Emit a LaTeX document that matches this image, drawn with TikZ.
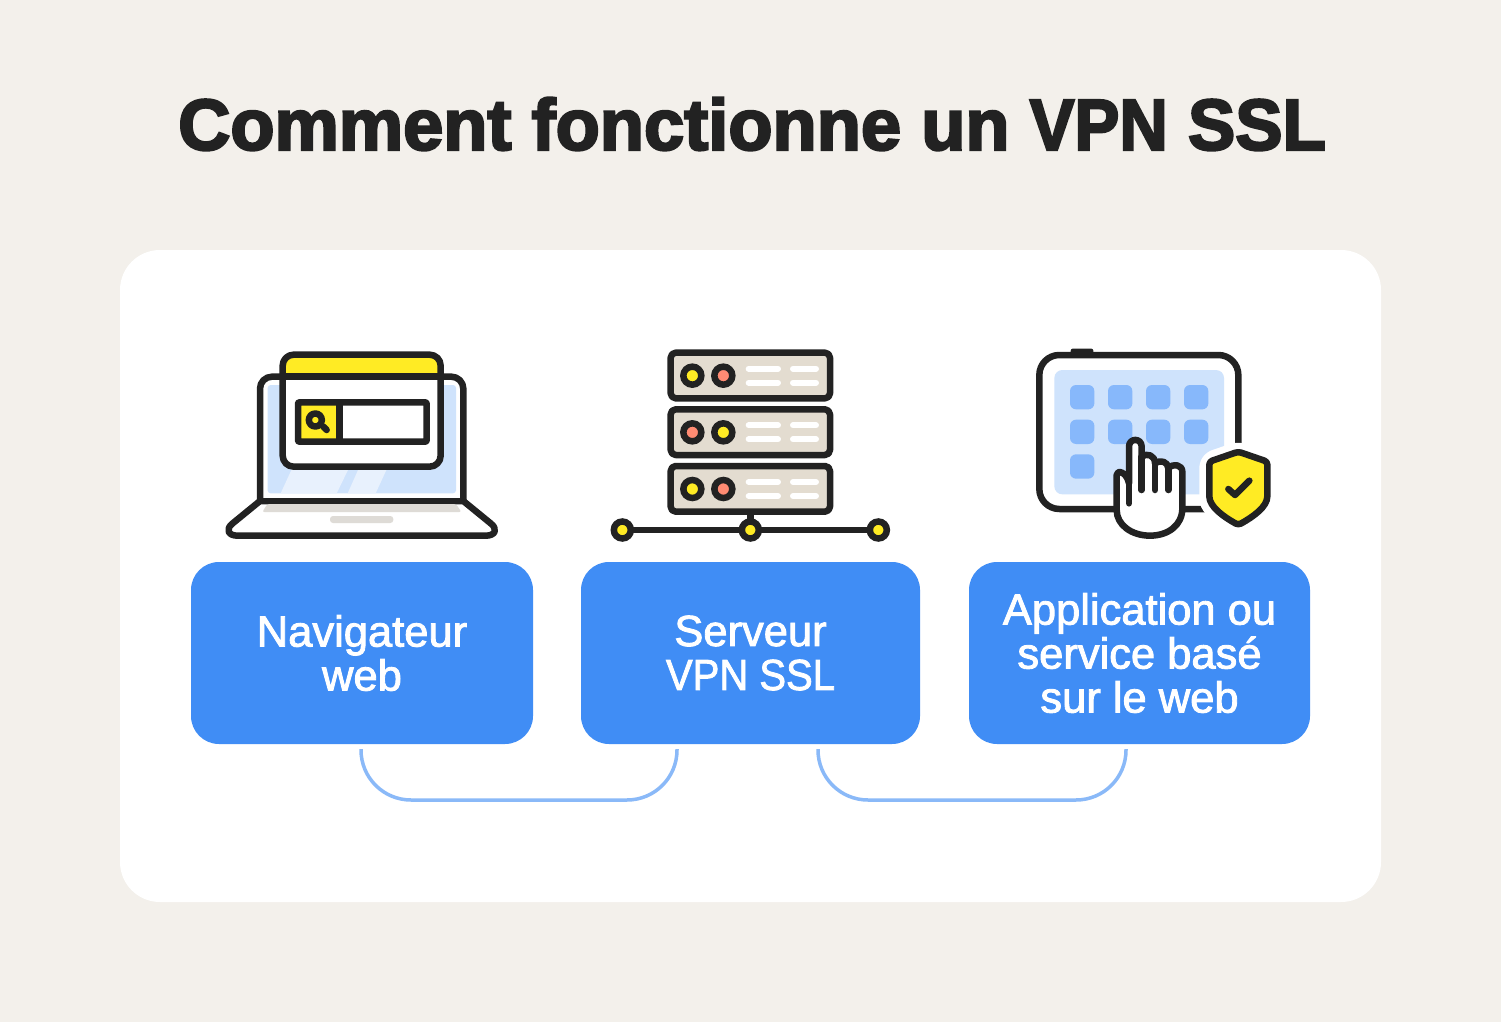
\documentclass[tikz,border=0pt]{standalone}
\usepackage{fontspec}
\setmainfont{Liberation Sans}
\newfontfamily\titlefont[FakeBold=3.2]{Liberation Sans Bold}
\newfontfamily\labelfont[FakeBold=2]{Liberation Sans}
\definecolor{bgc}{HTML}{F3F0EB}
\definecolor{boxc}{HTML}{408DF5}
\definecolor{linkc}{HTML}{8AB9F8}
\definecolor{inkc}{HTML}{222222}
\definecolor{yelc}{HTML}{FFEB24}
\definecolor{palec}{HTML}{CFE3FC}
\definecolor{glassc}{HTML}{E8F1FD}
\definecolor{iconc}{HTML}{87B8FB}
\definecolor{sandc}{HTML}{E3DCD0}
\definecolor{greyc}{HTML}{DEDBD6}
\definecolor{salmc}{HTML}{FF8B73}
\tikzset{
  bluebox/.style={fill=boxc,rounded corners=28pt,text=white,align=center,inner sep=0pt,
    font=\labelfont\fontsize{43.5}{44}\selectfont},
  link/.style={draw=linkc,line width=3.5pt,rounded corners=50pt},
  ink/.style={draw=inkc,line width=6.5pt,line join=round,line cap=round},
  zoomA/.style={shift={(#1,340)},x=0.33333pt,y=-0.33333pt},
  led/.style={draw=inkc,line width=6.5pt},
  whitebar/.style={draw=white,line width=6pt,line cap=round},
}
\begin{document}
\begin{tikzpicture}[x=1pt,y=-1pt]
\useasboundingbox (0,0) rectangle (1501,1022);
\fill[bgc] (0,0) rectangle (1501,1022);
\fill[white,rounded corners=40pt] (120,250) rectangle (1381,902);
\node[text=inkc,font=\titlefont\fontsize{72.3}{80}\selectfont,inner sep=0pt] (title) at (752,124) {Comment fonctionne un \scalebox{0.93}[1]{VPN} \scalebox{0.98}[1]{SSL}};

% boxes
\node[bluebox,minimum width=342pt,minimum height=182pt] (nav) at (362,653) {Navigateur\\web};
\node[bluebox,minimum width=339pt,minimum height=182pt] (srv) at (750.5,653) {Serveur\\\scalebox{0.92}[1]{VPN SSL}};
\node[bluebox,minimum width=341pt,minimum height=182pt] (app) at (1139.5,653) {Application ou\\service basé\\sur le web};

% connectors
\coordinate (n1) at ([xshift=-1pt,yshift=-5pt]nav.south);
\coordinate (s1) at ([xshift=-73.5pt,yshift=-5pt]srv.south);
\coordinate (s2) at ([xshift=67.5pt,yshift=-5pt]srv.south);
\coordinate (a1) at ([xshift=-13.5pt,yshift=-5pt]app.south);
\draw[link] (n1) -- (n1 |- 0,800) -- (s1 |- 0,800) -- (s1);
\draw[link] (s2) -- (s2 |- 0,800) -- (a1 |- 0,800) -- (a1);

% laptop
\begin{scope}[zoomA=210]
  \draw[ink,fill=white] (150,483) -- (68,550) .. controls (45,568) and (55,587) .. (82,587) -- (828,587) .. controls (855,587) and (865,568) .. (842,550) -- (760,483) -- cycle;
  \fill[greyc,rounded corners=2pt] (172,492) -- (738,492) -- (754,516) -- (157,516) -- cycle;
  \fill[greyc,rounded corners=3pt] (360,528) rectangle (550,549);
  \draw[ink,fill=white,rounded corners=12pt] (150,483) -- (150,110) -- (760,110) -- (760,483);
  \fill[palec,rounded corners=3pt] (173,135) rectangle (738,460);
  \fill[glassc] (212,460) -- (380,460) -- (415,388) -- (245,388) -- cycle;
  \fill[glassc] (413,460) -- (497,460) -- (530,388) -- (445,388) -- cycle;
  \draw[ink] (150,483) -- (760,483);
  \fill[white,rounded corners=11pt] (218,44) rectangle (692,380);
  \fill[yelc,rounded corners=9pt] (218,44) -- (692,44) -- (692,110) -- (218,110) -- cycle;
  \fill[yelc] (218,80) rectangle (692,110);
  \draw[ink,rounded corners=11pt] (218,44) rectangle (692,380);
  \draw[ink,line cap=butt] (218,110) -- (692,110);
  \fill[yelc] (264,187) rectangle (388,305);
  \draw[ink,rounded corners=1pt] (264,187) rectangle (650,305);
  \draw[ink,line cap=butt] (388,187) -- (388,305);
  \draw[ink] (316,240) circle[radius=6.5pt];
  \draw[ink] (340,260) -- (350,270);
\end{scope}

% server
\begin{scope}[zoomA=600]
  \foreach \t/\b/\ca/\cb in {38/175/yelc/salmc,208/345/salmc/yelc,378/515/yelc/salmc}{
    \draw[ink,fill=sandc,rounded corners=5pt] (212,\t) rectangle (690,\b);
    \draw[led,fill=\ca] (277,\t+69) circle[radius=9pt];
    \draw[led,fill=\cb] (370,\t+69) circle[radius=9pt];
    \draw[whitebar] (446,\t+48) -- (534,\t+48);
    \draw[whitebar] (446,\t+90) -- (534,\t+90);
    \draw[whitebar] (579,\t+48) -- (648,\t+48);
    \draw[whitebar] (579,\t+90) -- (648,\t+90);
  }
  \draw[ink,line cap=butt] (451,515) -- (451,570);
  \draw[ink,line cap=butt] (67,570) -- (835,570);
  \foreach \x in {67,451,835}
    \draw[led,fill=yelc] (\x,570) circle[radius=8.5pt];
\end{scope}

% tablet
\begin{scope}[zoomA=1020]
  \fill[inkc,rounded corners=2pt] (152,26) rectangle (220,50);
  \fill[white,rounded corners=20pt] (58,45) rectangle (655,507);
  \draw[ink,line cap=butt,rounded corners=20pt] (655,310) -- (655,45) -- (58,45) -- (58,507) -- (560,507);
  \fill[palec,rounded corners=8pt] (103,90) rectangle (612,463);
  \foreach \x in {150,264,378,492}
    \foreach \y in {135,239}
      \fill[iconc,rounded corners=6pt] (\x,\y) rectangle ++(73,73);
  \fill[iconc,rounded corners=6pt] (150,343) rectangle ++(73,73);
  % hand
  \draw[ink,fill=white] (290,510) -- (290,405) .. controls (290,388) and (320,395) .. (327,430) -- (327,320)
    .. controls (327,293) and (365,293) .. (365,320) -- (365,350)
    .. controls (380,338) and (405,345) .. (405,370)
    .. controls (420,358) and (445,365) .. (445,385)
    .. controls (460,368) and (487,375) .. (487,395)
    -- (487,505) .. controls (487,555) and (445,587) .. (390,587)
    .. controls (335,587) and (290,555) .. (290,510) -- cycle;
  \draw[ink] (327,430) -- (327,490);
  \draw[ink] (365,350) -- (365,450);
  \draw[ink] (405,370) -- (405,450);
  \draw[ink] (445,385) -- (445,450);
  % shield
  \draw[draw=white,line width=20pt,line join=round,fill=white,rounded corners=6pt]
    (655,335) -- (742,365) -- (742,460) .. controls (742,500) and (700,530) .. (655,555)
    .. controls (610,530) and (568,500) .. (568,460) -- (568,365) -- cycle;
  \draw[ink,fill=yelc,rounded corners=3pt]
    (655,335) -- (742,365) -- (742,460) .. controls (742,500) and (700,530) .. (655,555)
    .. controls (610,530) and (568,500) .. (568,460) -- (568,365) -- cycle;
  \draw[ink,line width=6.5pt] (625,447) -- (645,465) -- (688,422);
\end{scope}
\end{tikzpicture}
\end{document}
